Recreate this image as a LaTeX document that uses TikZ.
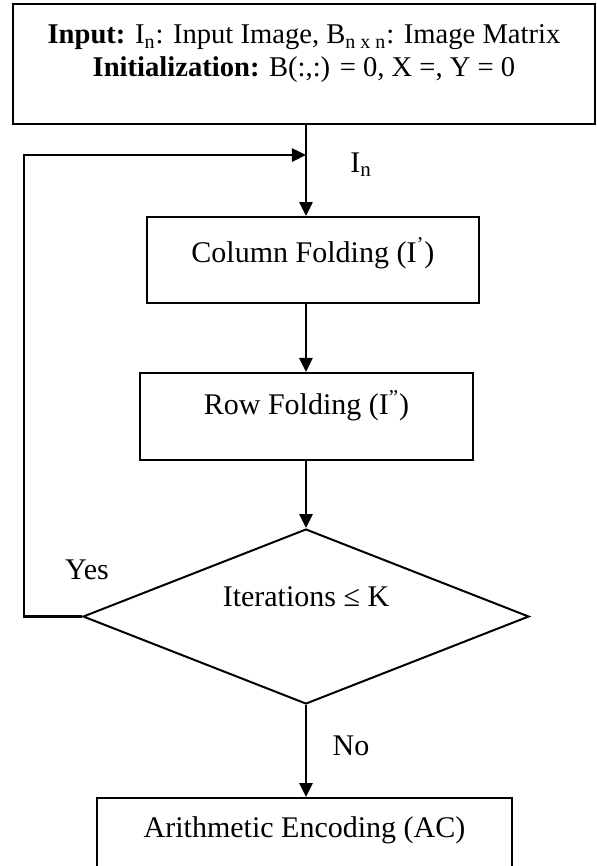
\documentclass[tikz,border=0pt]{standalone}
\usepackage{fontspec}
\setmainfont{Liberation Serif}
\usetikzlibrary{arrows.meta,shapes.geometric}

\begin{document}
\begin{tikzpicture}[
  font=\fontsize{15}{16.5}\selectfont, >={Triangle[length=7pt,width=6.5pt]},
  blk/.style={draw, line width=1pt, align=center, inner sep=0pt},
  cond/.style={draw, line width=1pt, diamond, aspect=2.5, inner sep=0pt},
  flow/.style={->, line width=1.3pt},
  lbl/.style={inner sep=1pt},
]
\useasboundingbox (0,0) rectangle (10.491,15.218);
\node[blk, font=\fontsize{14.3}{16.5}\selectfont, minimum width=10.23cm, minimum height=2.11cm, text depth=13pt] (init) at (5.342,14.094)
  {\textbf{Input:} I\textsubscript{n}: Input Image, B\textsubscript{n x n}: Image Matrix\\
   \textbf{Initialization:} B(:,:) = 0, X =, Y = 0};
\node[blk, minimum width=5.834cm, minimum height=1.511cm, text depth=10pt] (colfold) at (5.500,10.649) {Column Folding (I\textsuperscript{'})};
\node[blk, minimum width=5.852cm, minimum height=1.529cm, text depth=14pt] (rowfold) at (5.386,7.899) {Row Folding (I\textsuperscript{''})};
\node[cond, minimum width=7.838cm, minimum height=3.075cm, text depth=20pt] (iter) at (5.377,4.384) {Iterations ≤ K};
\node[blk, minimum width=7.293cm, minimum height=1.511cm, text depth=14pt] (arith) at (5.351,0.439) {Arithmetic Encoding (AC)};
% loop back joins the main line here
\coordinate (join) at (5.377,12.494);
\coordinate (back) at (0.422,12.494);
\node[lbl] (inlbl) at (6.344,12.319) {I\textsubscript{n}};
\node[lbl] (yes) at (1.529,5.202) {Yes};
\node[lbl] (no) at (6.168,2.109) {No};
\draw[flow] (init.south -| join) -- (colfold.north -| join);
\draw[flow] (colfold.south -| join) -- (rowfold.north -| join);
\draw[flow] (rowfold.south -| iter) -- (iter.north);
\draw[flow] (iter.south) -- (arith.north -| iter);
\draw[flow] (iter.west) -| (back) -- (join);
\end{tikzpicture}
\end{document}
